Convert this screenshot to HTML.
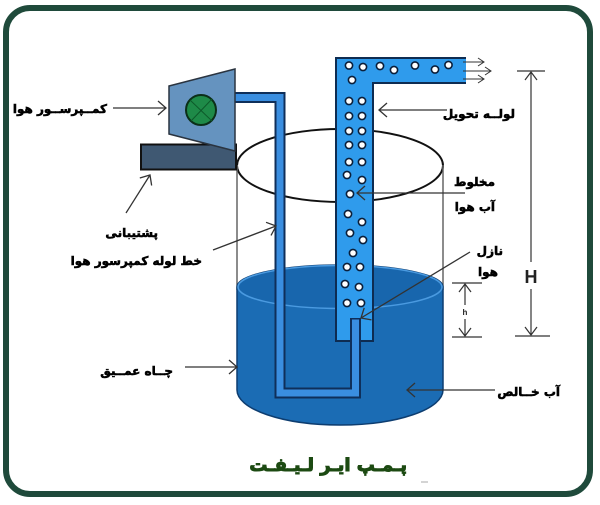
<!DOCTYPE html>
<html lang="fa"><head><meta charset="utf-8">
<style>
body{margin:0;width:600px;height:505px;background:#fff;position:relative;overflow:hidden}
svg{position:absolute;left:0;top:0}
.t{position:absolute;font-family:"DejaVu Sans",sans-serif;font-weight:bold;font-size:12px;color:#000;direction:rtl;white-space:nowrap;line-height:16px;-webkit-text-stroke:0.55px #000}
</style></head><body>
<svg width="600" height="505" viewBox="0 0 600 505" xmlns="http://www.w3.org/2000/svg">
<defs>
<marker id="a" markerUnits="userSpaceOnUse" markerWidth="12" markerHeight="18" refX="10" refY="8" orient="auto"><path d="M2,1 L10,8 L2,15" fill="none" stroke="#333" stroke-width="1.3"/></marker>
<marker id="s" markerUnits="userSpaceOnUse" markerWidth="8" markerHeight="10" refX="7" refY="5" orient="auto"><path d="M1,1 L7,5 L1,9" fill="none" stroke="#333" stroke-width="1"/></marker>
<marker id="d" markerUnits="userSpaceOnUse" markerWidth="10" markerHeight="14" refX="9" refY="7" orient="auto"><path d="M1,1 L9,7 L1,13" fill="none" stroke="#333" stroke-width="1.2"/></marker>
</defs>
<rect x="6" y="8" width="584" height="486" rx="24" ry="24" fill="none" stroke="#1f4a3b" stroke-width="6"/>
<ellipse cx="340" cy="165.5" rx="103" ry="36.5" fill="none" stroke="#111" stroke-width="2"/>
<line x1="237" y1="165" x2="237" y2="290" stroke="#666" stroke-width="1.5"/>
<line x1="443" y1="165" x2="443" y2="290" stroke="#666" stroke-width="1.5"/>
<path d="M237,287 L237,390 A103,35 0 0 0 443,390 L443,287 A103,22 0 0 0 237,287 Z" fill="#1b6cb4" stroke="#0d3d70" stroke-width="1.5"/>
<ellipse cx="340" cy="287" rx="102" ry="21.5" fill="#1866ad" stroke="#4a9ae0" stroke-width="1.5"/>
<path d="M336,58 L466,58 L466,83 L373,83 L373,341 L336,341 Z" fill="#2f9bec"/>
<path d="M466,58 L336,58 L336,341 L373,341 L373,83 L466,83" fill="none" stroke="#0e2c52" stroke-width="2"/>
<g fill="#fff" stroke="#0b1f3a" stroke-width="1.6">
<circle cx="349" cy="65.5" r="3.6"/><circle cx="363" cy="67" r="3.6"/><circle cx="380" cy="66" r="3.6"/><circle cx="394" cy="70" r="3.6"/><circle cx="415" cy="65.5" r="3.6"/><circle cx="435" cy="69.5" r="3.6"/><circle cx="448.5" cy="65" r="3.6"/><circle cx="352" cy="80" r="3.6"/>
<circle cx="349" cy="101" r="3.6"/><circle cx="362" cy="101" r="3.6"/>
<circle cx="349" cy="116" r="3.6"/><circle cx="362" cy="116" r="3.6"/>
<circle cx="349" cy="131" r="3.6"/><circle cx="362" cy="131" r="3.6"/>
<circle cx="349" cy="145" r="3.6"/><circle cx="362" cy="145" r="3.6"/>
<circle cx="349" cy="162" r="3.6"/><circle cx="362" cy="162" r="3.6"/>
<circle cx="347" cy="175" r="3.6"/><circle cx="362" cy="180" r="3.6"/>
<circle cx="350" cy="194" r="3.6"/>
<circle cx="348" cy="214" r="3.6"/><circle cx="362" cy="222" r="3.6"/>
<circle cx="350" cy="233" r="3.6"/><circle cx="363" cy="240" r="3.6"/>
<circle cx="353" cy="253" r="3.6"/>
<circle cx="347" cy="267" r="3.6"/><circle cx="360" cy="267" r="3.6"/>
<circle cx="345" cy="284" r="3.6"/><circle cx="359" cy="287" r="3.6"/>
<circle cx="347" cy="303" r="3.6"/><circle cx="361" cy="303" r="3.6"/>
</g>
<path d="M235,97.5 L280,97.5 L280,393 L355.5,393 L355.5,318" fill="none" stroke="#0f2f5a" stroke-width="11" stroke-linejoin="miter" stroke-linecap="butt"/>
<path d="M234,97.5 L280,97.5 L280,393 L355.5,393 L355.5,319.5" fill="none" stroke="#3a8ee0" stroke-width="7" stroke-linejoin="miter" stroke-linecap="butt"/>
<rect x="141" y="144.5" width="95" height="25" fill="#3f5872" stroke="#111" stroke-width="2"/>
<polygon points="169,86 235,69 235,151 169,134" fill="#6593bf" stroke="#2a3440" stroke-width="1.5"/>
<circle cx="201" cy="110" r="15" fill="#1e8a48" stroke="#0b2f18" stroke-width="2"/>
<line x1="190" y1="100" x2="212" y2="121" stroke="#0d5a2a" stroke-width="1"/>
<line x1="212" y1="99" x2="191" y2="121" stroke="#0d5a2a" stroke-width="1"/>
<g stroke="#333" stroke-width="1" fill="none">
<line x1="463" y1="62" x2="484" y2="62" marker-end="url(#s)"/>
<line x1="463" y1="71" x2="491" y2="71" marker-end="url(#s)"/>
<line x1="463" y1="79" x2="484" y2="79" marker-end="url(#s)"/>
</g>
<g stroke="#333" stroke-width="1.3" fill="none">
<line x1="113" y1="108" x2="166" y2="108" marker-end="url(#a)"/>
<line x1="126" y1="213" x2="150" y2="175" marker-end="url(#a)"/>
<line x1="213" y1="250" x2="276" y2="226" marker-end="url(#a)"/>
<line x1="185" y1="367" x2="237" y2="367" marker-end="url(#a)"/>
<line x1="447" y1="110" x2="379" y2="110" marker-end="url(#a)"/>
<line x1="465" y1="193" x2="357" y2="193" marker-end="url(#a)"/>
<line x1="470" y1="252" x2="361" y2="318" marker-end="url(#a)"/>
<line x1="495" y1="390" x2="407" y2="390" marker-end="url(#a)"/>
</g>
<g stroke="#333" stroke-width="1.2" fill="none">
<line x1="452" y1="283" x2="482" y2="283"/>
<line x1="452" y1="337" x2="482" y2="337"/>
<line x1="465" y1="305" x2="465" y2="284" marker-end="url(#d)"/>
<line x1="465" y1="319" x2="465" y2="336" marker-end="url(#d)"/>
<line x1="517" y1="71" x2="545" y2="71"/>
<line x1="515" y1="336" x2="550" y2="336"/>
<line x1="531" y1="262" x2="531" y2="72" marker-end="url(#d)"/>
<line x1="531" y1="289" x2="531" y2="335" marker-end="url(#d)"/>
</g>
<text x="465" y="315" font-family="Liberation Sans, sans-serif" font-weight="bold" font-size="8" text-anchor="middle" fill="#222">h</text>
<text x="531" y="283" font-family="Liberation Sans, sans-serif" font-weight="bold" font-size="18" text-anchor="middle" fill="#222">H</text>
<line x1="421" y1="482" x2="428" y2="482" stroke="#aaa" stroke-width="1"/>
</svg>
<div class="t" style="right:493px;top:101px">کمــپرســور هوا</div>
<div class="t" style="right:442px;top:225px">پشتیبانی</div>
<div class="t" style="right:398px;top:253px">خط لوله کمپرسور هوا</div>
<div class="t" style="right:427px;top:363px">چــاه عمــیق</div>
<div class="t" style="right:85px;top:106px">لولــه تحویل</div>
<div class="t" style="right:105px;top:174px">مخلوط</div>
<div class="t" style="right:105px;top:199px">آب هوا</div>
<div class="t" style="right:97px;top:243px">نازل</div>
<div class="t" style="right:102px;top:264px">هوا</div>
<div class="t" style="right:40px;top:384px">آب خــالص</div>
<div class="t" style="right:193px;top:455px;font-size:18px;line-height:22px;color:#1c4a12;-webkit-text-stroke:1px #1c4a12">پـمـپ ایـر لـیـفـت</div>
</body></html>
